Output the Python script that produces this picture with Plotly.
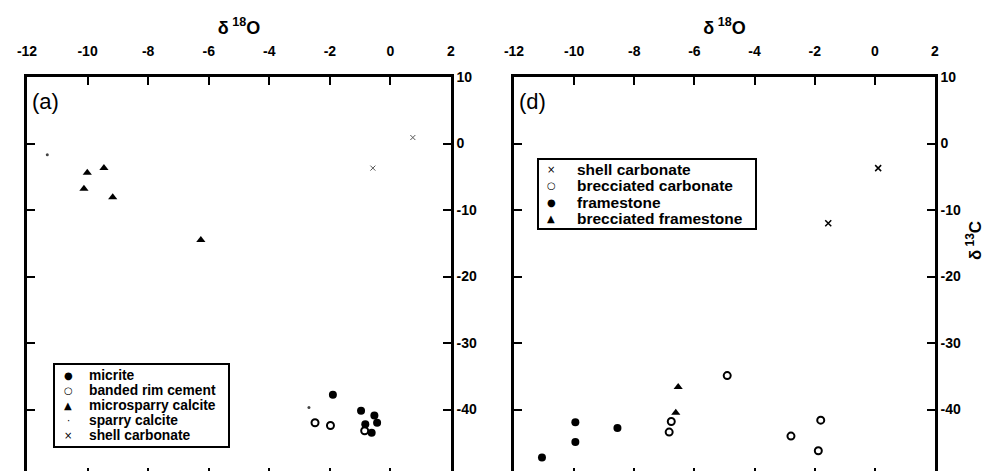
import plotly.graph_objects as go

# ---------------- data: panel (a) ----------------
a_micrite_x = [-1.90, -0.97, -0.83, -0.53, -0.44, -0.62]
a_micrite_y = [-37.8, -40.2, -42.2, -40.9, -42.0, -43.5]
a_banded_x = [-2.49, -1.98, -0.85]
a_banded_y = [-42.0, -42.4, -43.2]
a_microspar_x = [-10.01, -9.46, -10.12, -9.17, -6.26]
a_microspar_y = [-4.4, -3.7, -6.8, -8.1, -14.5]
a_sparry_x = [-11.33, -2.69]
a_sparry_y = [-1.7, -39.7]
a_shell_x = [0.74, -0.58]
a_shell_y = [0.9, -3.7]

# ---------------- data: panel (d) ----------------
d_shell_x = [0.11, -1.55]
d_shell_y = [-3.7, -12.0]
d_breccarb_x = [-4.91, -6.77, -6.84, -2.79, -1.80, -1.88]
d_breccarb_y = [-34.9, -41.8, -43.4, -44.0, -41.6, -46.2]
d_frame_x = [-11.07, -9.96, -9.96, -8.56]
d_frame_y = [-47.2, -41.9, -44.9, -42.8]
d_brecframe_x = [-6.54, -6.62]
d_brecframe_y = [-36.6, -40.5]

x_ticks = [-12, -10, -8, -6, -4, -2, 0, 2]
x_ticktext = ["-12", "-10", "-8", "-6", "-4", "-2", "0", "2"]
y_ticks = [10, 0, -10, -20, -30, -40, -50]
y_ticktext = ["10", "0", "-10", "-20", "-30", "-40", "-50"]

legend_a_labels = ["micrite", "banded rim cement", "microsparry calcite",
                   "sparry calcite", "shell carbonate"]
legend_a_symbols = ["●", "○", "▲", "·", "×"]
legend_d_labels = ["shell carbonate", "brecciated carbonate", "framestone",
                   "brecciated framestone"]
legend_d_symbols = ["×", "○", "●", "▲"]

FONT = "Liberation Sans, Arial, sans-serif"

fig = go.Figure()

def add(x, y, name, symbol, size, xa, ya, lw=0, color="black"):
    fig.add_trace(go.Scatter(
        x=x, y=y, mode="markers", name=name, xaxis=xa, yaxis=ya,
        marker=dict(symbol=symbol, size=size, color=color,
                    line=dict(width=lw, color=color)),
    ))

# panel (a)
add(a_micrite_x, a_micrite_y, "micrite", "circle", 8, "x", "y")
add(a_banded_x, a_banded_y, "banded rim cement", "circle-open", 7, "x", "y", lw=2)
add(a_microspar_x, a_microspar_y, "microsparry calcite", "triangle-up", 8, "x", "y")
add(a_sparry_x, a_sparry_y, "sparry calcite", "circle", 3, "x", "y", color="#444")
add(a_shell_x, a_shell_y, "shell carbonate", "x-thin", 5, "x", "y", lw=1, color="#555")

# panel (d)
add(d_shell_x, d_shell_y, "shell carbonate", "x-thin", 6, "x2", "y2", lw=1.5)
add(d_breccarb_x, d_breccarb_y, "brecciated carbonate", "circle-open", 7, "x2", "y2", lw=2)
add(d_frame_x, d_frame_y, "framestone", "circle", 8, "x2", "y2")
add(d_brecframe_x, d_brecframe_y, "brecciated framestone", "triangle-up", 8, "x2", "y2")

W, H = 997, 471
ydom = [(H - 468) / H, (H - 69) / H]

def xaxis(domain, anchor):
    return dict(
        domain=domain, anchor=anchor, range=[-12, 2], side="top",
        tickvals=x_ticks, ticktext=x_ticktext,
        ticks="inside", ticklen=8, tickwidth=2, tickcolor="black",
        showline=True, linewidth=2.5, linecolor="black", mirror="allticks",
        showgrid=False, zeroline=False, automargin=False,
        tickfont=dict(family=FONT, size=14, color="black", weight="bold"),
        ticklabelstandoff=13,
        title=dict(text="δ<sup> 18</sup>O", standoff=4,
                   font=dict(family=FONT, size=18, color="black", weight="bold")),
    )

def yaxis(anchor):
    return dict(
        domain=ydom, anchor=anchor, range=[-50, 10], side="right",
        tickvals=y_ticks, ticktext=y_ticktext,
        ticks="inside", ticklen=8, tickwidth=2, tickcolor="black",
        showline=True, linewidth=2.5, linecolor="black", mirror="allticks",
        showgrid=False, zeroline=False, automargin=False,
        tickfont=dict(family=FONT, size=14, color="black", weight="bold"),
        ticklabelstandoff=0,
    )

annotations = [
    dict(text="(a)", xref="x", yref="y", x=-11.9, y=6.3, showarrow=False,
         xanchor="left", yanchor="middle",
         font=dict(family=FONT, size=22, color="black")),
    dict(text="(d)", xref="x2", yref="y2", x=-11.9, y=6.3, showarrow=False,
         xanchor="left", yanchor="middle",
         font=dict(family=FONT, size=22, color="black")),
    dict(text="δ<sup> 13</sup>C", xref="paper", yref="paper",
         x=966 / W, y=(H - 233) / H, showarrow=False, textangle=-90,
         xanchor="center", yanchor="middle",
         font=dict(family=FONT, size=17, color="black", weight="bold")),
]

shapes = []

def manual_legend(box, sym_x, text_x, row_y0, row_dy, symbols, labels, fsize, ssize):
    x0, y0, x1, y1 = box
    shapes.append(dict(type="rect", xref="paper", yref="paper",
                       x0=x0 / W, x1=x1 / W, y0=(H - y1) / H, y1=(H - y0) / H,
                       line=dict(color="black", width=2), fillcolor="white",
                       layer="above"))
    for i, (s, lab) in enumerate(zip(symbols, labels)):
        yy = (H - (row_y0 + i * row_dy)) / H
        annotations.append(dict(text=s, xref="paper", yref="paper", x=sym_x / W, y=yy,
                                showarrow=False, xanchor="center", yanchor="middle",
                                font=dict(family="DejaVu Sans", size=ssize, color="black")))
        annotations.append(dict(text=lab, xref="paper", yref="paper", x=text_x / W, y=yy,
                                showarrow=False, xanchor="left", yanchor="middle",
                                font=dict(family=FONT, size=fsize, color="black",
                                          weight="bold")))

manual_legend((46, 356, 221, 439), 60, 79, 367, 15.2,
              legend_a_symbols, legend_a_labels, 13.8, 10)
manual_legend((530, 151, 748, 221), 543, 567, 161, 16.5,
              legend_d_symbols, legend_d_labels, 15.5, 10)

fig.update_layout(
    width=W, height=H,
    margin=dict(l=0, r=0, t=0, b=0),
    paper_bgcolor="white", plot_bgcolor="white",
    showlegend=False,
    xaxis=xaxis([19 / W, 443 / W], "y"),
    yaxis=yaxis("x"),
    xaxis2=xaxis([506 / W, 927 / W], "y2"),
    yaxis2=yaxis("x2"),
    annotations=annotations,
    shapes=shapes,
)

fig.write_html("out.html")
